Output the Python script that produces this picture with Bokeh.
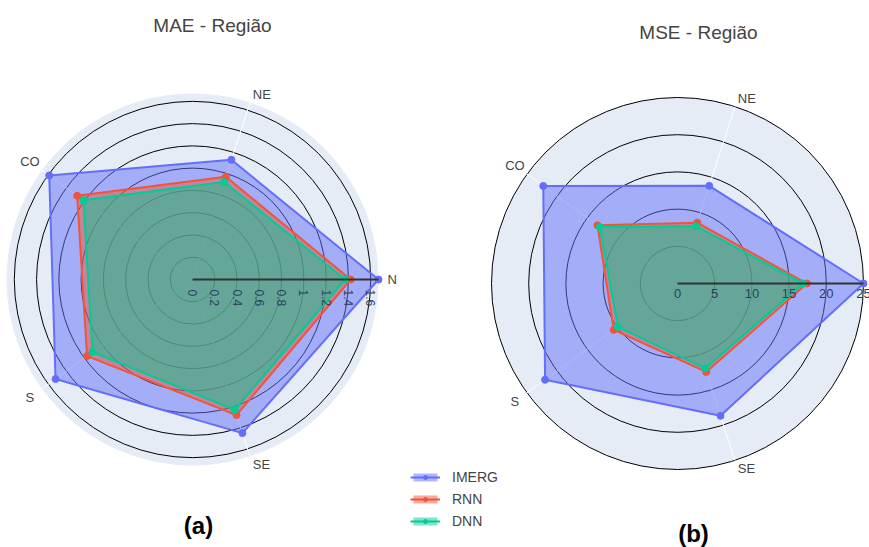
import math

from bokeh.core.properties import value
from bokeh.embed import file_html
from bokeh.layouts import row
from bokeh.models import Label, Legend, LegendItem
from bokeh.plotting import figure
from bokeh.resources import INLINE

# ---- data -------------------------------------------------------------
categories = ["N", "NE", "CO", "S", "SE"]

mae_imerg = [1.67, 1.13, 1.59, 1.52, 1.45]
mae_rnn = [1.42, 0.97, 1.28, 1.17, 1.28]
mae_dnn = [1.37, 0.92, 1.21, 1.11, 1.23]
mae_ticks = [0, 0.2, 0.4, 0.6, 0.8, 1.0, 1.2, 1.4, 1.6]
mae_tick_labels = ["0", "0.2", "0.4", "0.6", "0.8", "1", "1.2", "1.4", "1.6"]

mse_imerg = [25.0, 13.8, 22.3, 22.0, 18.7]
mse_rnn = [17.4, 8.6, 13.3, 10.6, 12.5]
mse_dnn = [16.9, 8.1, 12.9, 9.9, 12.0]
mse_ticks = [0, 5, 10, 15, 20, 25]
mse_tick_labels = ["0", "5", "10", "15", "20", "25"]

series_names = ["IMERG", "RNN", "DNN"]
series_colors = ["#636efa", "#EF553B", "#00cc96"]

# ---- styling ----------------------------------------------------------
FONT = "Liberation Sans"
BG = "#E5ECF6"
TEXT = "#444444"
TICK_TEXT = "#2a3f5f"
H = 547
R_PX = 186  # radius of the polar area in pixels


def make_polar(width, cx, cy, series, ticks, tick_labels, tick_size, rotate_ticks):
    rmax = max(max(s) for s in series)
    scale = R_PX / rmax  # pixels per data unit
    p = figure(
        width=width, height=H,
        x_range=(-cx / scale, (width - cx) / scale),
        y_range=(-(H - cy) / scale, cy / scale),
        output_backend="svg", toolbar_location=None, min_border=0,
    )
    p.xaxis.visible = False
    p.yaxis.visible = False
    p.xgrid.visible = False
    p.ygrid.visible = False
    p.outline_line_color = None
    p.background_fill_color = "white"
    p.border_fill_color = "white"

    n = len(categories)
    thetas = [2 * math.pi * i / n for i in range(n)]

    # polar background and grid
    p.circle(x=[0], y=[0], radius=rmax, fill_color=BG, line_color=None)
    grid_r = [t for t in ticks if t > 0]
    p.circle(x=[0] * len(grid_r), y=[0] * len(grid_r), radius=grid_r,
             fill_color=None, line_color="black", line_width=1)
    p.segment(x0=[0] * n, y0=[0] * n,
              x1=[rmax * math.cos(t) for t in thetas],
              y1=[rmax * math.sin(t) for t in thetas],
              line_color="white", line_width=1)

    # traces
    renderers = []
    for vals, color in zip(series, series_colors):
        xs = [v * math.cos(t) for v, t in zip(vals, thetas)]
        ys = [v * math.sin(t) for v, t in zip(vals, thetas)]
        band = p.patch(xs, ys, fill_color=color, fill_alpha=0.5, line_color=None)
        ln = p.line(xs + xs[:1], ys + ys[:1], line_color=color, line_width=2)
        mk = p.scatter(xs, ys, size=7, fill_color=color, line_color=color)
        renderers.append((band, ln, mk))

    # radial axis line (above traces)
    p.line([0, rmax], [0, 0], line_color="#333333", line_width=2)

    # radial tick labels
    if rotate_ticks:
        p.text(x=ticks, y=[-10 / scale] * len(ticks), text=tick_labels,
               angle=-math.pi / 2, text_align="left", text_baseline="middle",
               text_font=value(FONT), text_font_size=value(tick_size),
               text_color=TICK_TEXT)
    else:
        p.text(x=ticks, y=[-5 / scale] * len(ticks), text=tick_labels,
               text_align="center", text_baseline="top",
               text_font=value(FONT), text_font_size=value(tick_size),
               text_color=TICK_TEXT)

    # angular category labels (skipped when they would fall outside the panel)
    x_end = (width - cx) / scale
    for cat, t in zip(categories, thetas):
        c, s = math.cos(t), math.sin(t)
        if c > 0.2:
            r = rmax + 9 / scale
            align = "left"
        else:
            r = rmax + 15 / scale
            align = "center"
        if r * c >= x_end:
            continue
        p.text(x=[r * c], y=[r * s], text=[cat], text_align=align,
               text_baseline="middle", text_font=value(FONT),
               text_font_size=value("13px"), text_color=TEXT)
    return p, renderers


left, _ = make_polar(400, 192, 279, [mae_imerg, mae_rnn, mae_dnn],
                     mae_ticks, mae_tick_labels, "12px", True)
right, rr = make_polar(469, 277, 283, [mse_imerg, mse_rnn, mse_dnn],
                       mse_ticks, mse_tick_labels, "13px", False)

# titles and panel letters
left.add_layout(Label(x=212, y=H - 25, x_units="screen", y_units="screen",
                      text="MAE - Região", text_align="center", text_baseline="middle",
                      text_font=FONT, text_font_size="19px", text_color=TEXT))
right.add_layout(Label(x=298, y=H - 32, x_units="screen", y_units="screen",
                       text="MSE - Região", text_align="center", text_baseline="middle",
                       text_font=FONT, text_font_size="19px", text_color=TEXT))
left.add_layout(Label(x=198, y=H - 525, x_units="screen", y_units="screen",
                      text="(a)", text_align="center", text_baseline="middle",
                      text_font=FONT, text_font_size="24px", text_font_style="bold",
                      text_color="black"))
right.add_layout(Label(x=293, y=H - 533, x_units="screen", y_units="screen",
                       text="(b)", text_align="center", text_baseline="middle",
                       text_font=FONT, text_font_size="24px", text_font_style="bold",
                       text_color="black"))

# legend
legend = Legend(
    items=[LegendItem(label=name, renderers=list(r)) for name, r in zip(series_names, rr)],
    location=(10, 18), orientation="vertical",
    glyph_width=30, glyph_height=10, label_height=16, spacing=6,
    label_standoff=12, padding=0, margin=0,
    border_line_color=None, background_fill_alpha=0,
    label_text_font=FONT, label_text_font_size="14px", label_text_color=TEXT,
)
right.add_layout(legend)

layout = row(left, right, spacing=0)
open("out.html", "w").write(file_html(layout, INLINE))
